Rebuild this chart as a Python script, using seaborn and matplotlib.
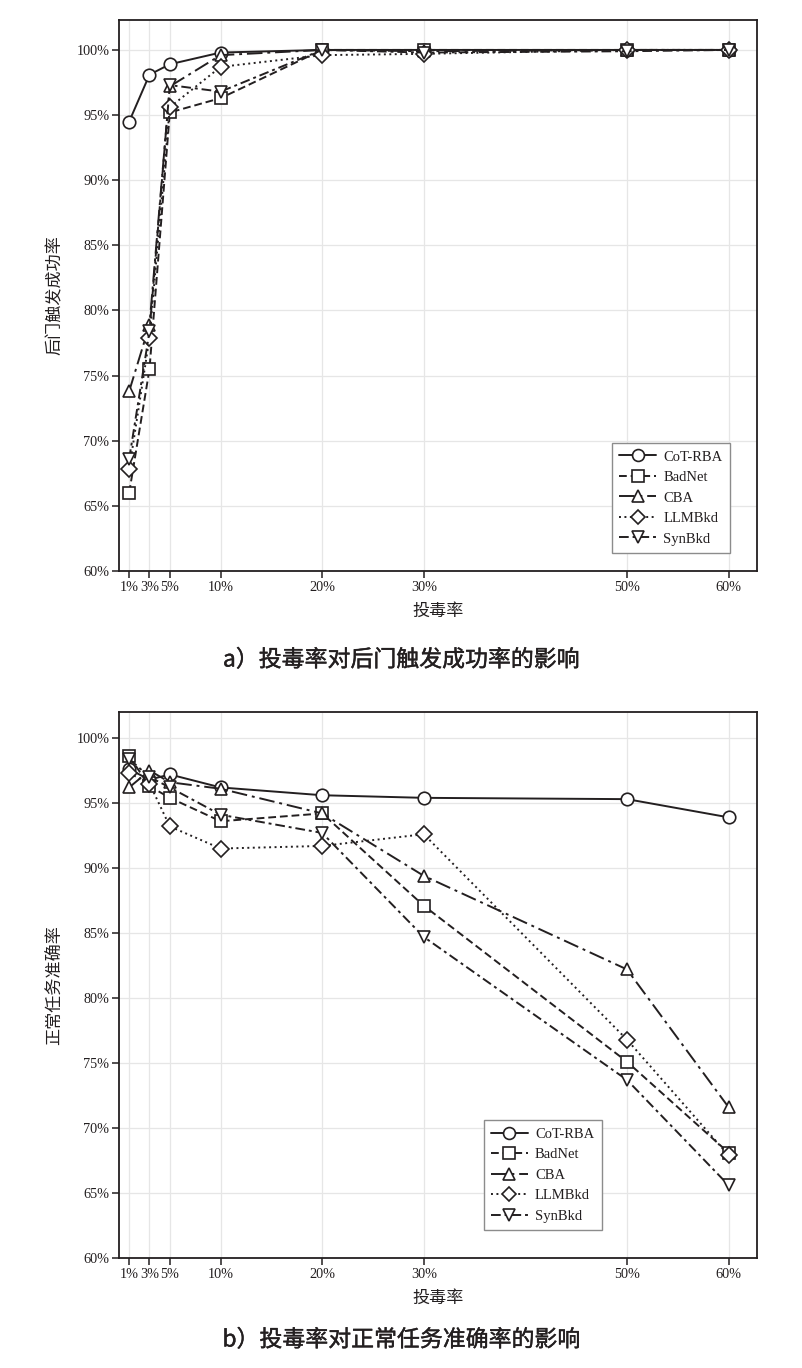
import numpy as np
import pandas as pd
import matplotlib
matplotlib.use("Agg")
import matplotlib.pyplot as plt
import matplotlib.patheffects as pe
import seaborn as sns

rates = [1, 3, 5, 10, 20, 30, 50, 60]
rate_labels = ["1%", "3%", "5%", "10%", "20%", "30%", "50%", "60%"]
methods = ["CoT-RBA", "BadNet", "CBA", "LLMBkd", "SynBkd"]

# (a) backdoor attack success rate
asr_cot = [94.5, 98.1, 98.9, 99.8, 100.0, 100.0, 100.0, 100.0]
asr_badnet = [66.0, 75.5, 95.2, 96.3, 100.0, 100.0, 100.0, 100.0]
asr_cba = [73.8, 78.9, 97.2, 99.6, 100.0, 99.9, 100.0, 100.0]
asr_llmbkd = [67.8, 77.9, 95.6, 98.7, 99.6, 99.7, 100.0, 100.0]
asr_synbkd = [68.6, 78.4, 97.3, 96.8, 100.0, 99.8, 99.9, 100.0]

# (b) clean task accuracy
acc_cot = [97.6, 96.8, 97.2, 96.2, 95.6, 95.4, 95.3, 93.9]
acc_badnet = [98.6, 96.3, 95.4, 93.6, 94.2, 87.1, 75.1, 68.1]
acc_cba = [96.2, 97.5, 96.6, 96.1, 94.2, 89.4, 82.2, 71.6]
acc_llmbkd = [97.3, 96.5, 93.2, 91.5, 91.7, 92.6, 76.8, 67.9]
acc_synbkd = [98.4, 97.0, 96.2, 94.1, 92.7, 84.7, 73.7, 65.6]

yticks = [60, 65, 70, 75, 80, 85, 90, 95, 100]
ytick_labels = ["60%", "65%", "70%", "75%", "80%", "85%", "90%", "95%", "100%"]

panel_a = dict(zip(methods, [asr_cot, asr_badnet, asr_cba, asr_llmbkd, asr_synbkd]))
panel_b = dict(zip(methods, [acc_cot, acc_badnet, acc_cba, acc_llmbkd, acc_synbkd]))

styles = {
    "CoT-RBA": dict(marker="o", linestyle="-"),
    "BadNet": dict(marker="s", linestyle=(0, (4, 2))),
    "CBA": dict(marker="^", linestyle=(0, (8, 2.5, 1.5, 2.5))),
    "LLMBkd": dict(marker="D", linestyle=(0, (1, 1.8))),
    "SynBkd": dict(marker="v", linestyle=(0, (5, 2, 1.5, 2))),
}
msizes = {"CoT-RBA": 9, "BadNet": 8.5, "CBA": 9, "LLMBkd": 8, "SynBkd": 9}

sns.set_theme(style="white")
plt.rcParams["font.family"] = ["Liberation Serif", "Noto Sans CJK SC", "DejaVu Sans"]
plt.rcParams["axes.unicode_minus"] = False

fig = plt.figure(figsize=(8.02, 13.68), dpi=100)
ax_a = fig.add_axes([0.1484, 0.5826, 0.7955, 0.4028])
ax_b = fig.add_axes([0.1484, 0.0804, 0.7955, 0.3991])

cjk = ["Noto Sans CJK SC", "DejaVu Sans"]


def draw(ax, data, ylabel, legend_anchor, ytop):
    for m in methods:
        df = pd.DataFrame({"rate": rates, "value": data[m]})
        sns.lineplot(data=df, x="rate", y="value", ax=ax, color="#231f20",
                     linewidth=1.4, markersize=msizes[m],
                     markerfacecolor="white", markeredgecolor="#231f20",
                     markeredgewidth=1.2, label=m, sort=True,
                     **styles[m])
    ax.set_xlim(0, 62.8)
    ax.set_ylim(60, ytop)
    ax.set_xticks(rates)
    ax.set_xticklabels(rate_labels)
    ax.set_yticks(yticks)
    ax.set_yticklabels(ytick_labels)
    ax.grid(True, color="#e6e6e6", linewidth=0.9)
    ax.set_axisbelow(True)
    for s in ax.spines.values():
        s.set_color("#231f20")
        s.set_linewidth(1.3)
    ax.tick_params(axis="both", which="major", direction="out", length=5,
                   width=1.1, color="#231f20", labelsize=10.3,
                   labelcolor="#231f20", pad=2, bottom=True, left=True)
    ax.set_xlabel("投毒率", family=cjk, fontsize=12.3, color="#231f20", labelpad=6)
    ax.set_ylabel(ylabel, family=cjk, fontsize=12.3, color="#231f20", labelpad=9)
    leg = ax.legend(loc="lower left", bbox_to_anchor=legend_anchor,
                    frameon=True, fancybox=False, framealpha=1,
                    edgecolor="#8c8c8c", fontsize=10.5, handlelength=2.5,
                    handletextpad=0.5, borderpad=0.5, labelspacing=0.5,
                    borderaxespad=0, markerscale=0.95)
    leg.get_frame().set_linewidth(1.0)
    for t in leg.get_texts():
        t.set_color("#231f20")


draw(ax_a, panel_a, "后门触发成功率", (0.773, 0.033), 102.3)
draw(ax_b, panel_b, "正常任务准确率", (0.572, 0.051), 102.0)

cap_fx = [pe.withStroke(linewidth=0.3, foreground="#231f20")]
fig.text(0.5, 1 - 660 / 1368, "a）投毒率对后门触发成功率的影响", family=cjk,
         fontsize=16.5, ha="center", va="center", color="#231f20",
         path_effects=cap_fx)
fig.text(0.5, 1 - 1340 / 1368, "b）投毒率对正常任务准确率的影响", family=cjk,
         fontsize=16.5, ha="center", va="center", color="#231f20",
         path_effects=cap_fx)

fig.savefig("out.png", dpi=100, facecolor="white")
